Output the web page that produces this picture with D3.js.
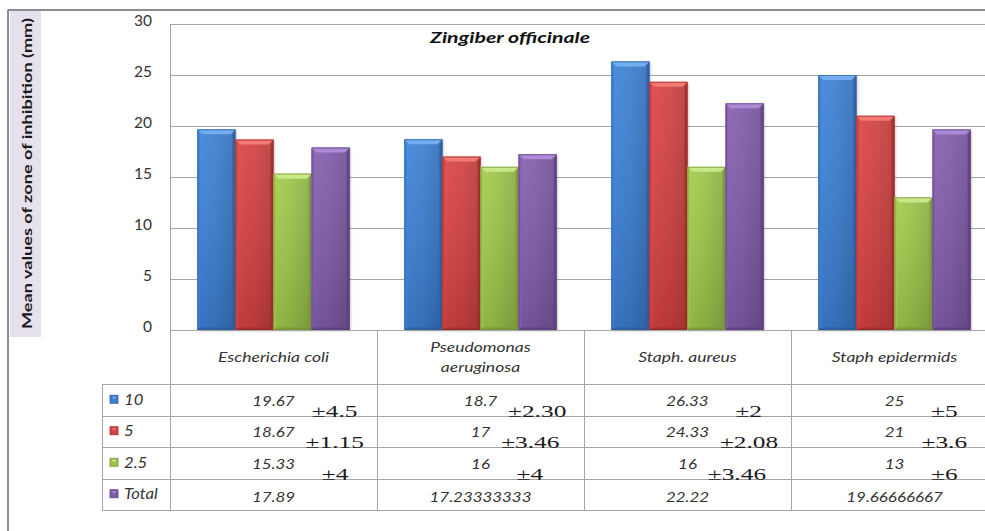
<!DOCTYPE html>
<html>
<head>
<meta charset="utf-8">
<script src="https://cdn.jsdelivr.net/npm/d3@7"></script>
<style>
  html, body { margin: 0; padding: 0; background: #ffffff; }
  svg { display: block; }
</style>
</head>
<body>
<svg id="chart" width="985" height="531"></svg>
<script>
// ---- data ----
const categories = ["Escherichia coli", "Pseudomonas|aeruginosa", "Staph. aureus", "Staph epidermids"];
const seriesNames = ["10", "5", "2.5", "Total"];
const values10 = [19.67, 18.7, 26.33, 25];
const values5 = [18.67, 17, 24.33, 21];
const values2_5 = [15.33, 16, 16, 13];
const valuesTotal = [17.89, 17.23333333, 22.22, 19.66666667];
const spread10 = ["±4.5", "±2.30", "±2", "±5"];
const spread5 = ["±1.15", "±3.46", "±2.08", "±3.6"];
const spread2_5 = ["±4", "±4", "±3.46", "±6"];
const yTicks = [0, 5, 10, 15, 20, 25, 30];
const chartTitle = "Zingiber officinale";
const yTitle = "Mean values of zone of inhibition (mm)";

const seriesValues = [values10, values5, values2_5, valuesTotal];
const seriesSpread = [spread10, spread5, spread2_5, null];
const palette = [
  { base: "#3b7dd0", light: "#74aef0", dark: "#2a5c9c" },
  { base: "#d24141", light: "#f27a72", dark: "#9e2b2b" },
  { base: "#9cc34a", light: "#cbe889", dark: "#779538" },
  { base: "#7f5ba8", light: "#ac8ad8", dark: "#5c407f" }
];

// ---- layout ----
const svg = d3.select("#chart");
const plotLeft = 170, plotTop = 24, plotBottom = 330;
const bandW = 207;
const tableLeft = 102;
const rowH = 31.5;
const headerBottom = 384;
const tableBottom = headerBottom + rowH * 4;
const gridColor = "#a6a6a6";
const textColor = "#333333";

const x = d3.scaleBand().domain(categories).range([plotLeft, plotLeft + bandW * categories.length]).padding(0);
const xs = d3.scaleBand().domain(seriesNames).range([0, x.bandwidth()]).paddingInner(0).paddingOuter(0.72);
const y = d3.scaleLinear().domain([0, 30]).range([plotBottom, plotTop]);

// outer frame (left and top edges)
svg.append("line").attr("x1", 8).attr("x2", 8).attr("y1", 10).attr("y2", 531)
  .attr("stroke", "#8c8c8c").attr("stroke-width", 2);
svg.append("line").attr("x1", 8).attr("x2", 985).attr("y1", 10).attr("y2", 10)
  .attr("stroke", "#8c8c8c").attr("stroke-width", 2);

// axis title strip
svg.append("rect").attr("x", 10).attr("y", 11).attr("width", 31).attr("height", 326).attr("fill", "#e6e1ed");
svg.append("text")
  .attr("transform", `translate(32,${(18 + 329) / 2}) rotate(-90)`)
  .attr("text-anchor", "middle")
  .attr("font-family", "Lato, 'Open Sans', sans-serif")
  .attr("font-weight", "bold")
  .attr("font-size", 14)
  .attr("fill", "#1a1a1a")
  .attr("textLength", 311).attr("lengthAdjust", "spacingAndGlyphs")
  .text(yTitle);

// gridlines
svg.append("g").selectAll("line").data(yTicks.filter(t => t > 0)).join("line")
  .attr("x1", plotLeft).attr("x2", 985)
  .attr("y1", d => y(d) + 0.5).attr("y2", d => y(d) + 0.5)
  .attr("stroke", gridColor).attr("stroke-width", 1);

// y axis tick labels
const yAxis = d3.axisLeft(y).tickValues(yTicks).tickSize(0).tickPadding(0);
const yg = svg.append("g").attr("transform", "translate(152,0)").call(yAxis);
yg.select(".domain").remove();
yg.selectAll("text")
  .attr("font-family", "Lato, 'Open Sans', sans-serif")
  .attr("font-size", 15.5)
  .attr("fill", textColor)
  .attr("dy", "0.1em");

// ---- bars with bevelled faces ----
const defs = svg.append("defs");
palette.forEach((c, i) => {
  const g = defs.append("linearGradient").attr("id", "face" + i).attr("x1", 0).attr("x2", 1).attr("y1", 0).attr("y2", 0);
  g.append("stop").attr("offset", 0).attr("stop-color", d3.color(c.base).brighter(0.15));
  g.append("stop").attr("offset", 0.45).attr("stop-color", c.base);
  g.append("stop").attr("offset", 1).attr("stop-color", d3.color(c.base).darker(0.35));
  const v = defs.append("linearGradient").attr("id", "shade" + i).attr("x1", 0).attr("x2", 0).attr("y1", 0).attr("y2", 1);
  v.append("stop").attr("offset", 0).attr("stop-color", "#ffffff").attr("stop-opacity", 0.08);
  v.append("stop").attr("offset", 1).attr("stop-color", "#000000").attr("stop-opacity", 0.12);
});
const shadow = defs.append("filter").attr("id", "barShadow").attr("x", "-20%").attr("y", "-5%").attr("width", "140%").attr("height", "110%");
shadow.append("feDropShadow").attr("dx", 1).attr("dy", 1).attr("stdDeviation", 1.2).attr("flood-color", "#000").attr("flood-opacity", 0.25);

const barData = [];
categories.forEach((cat, ci) => {
  seriesNames.forEach((s, si) => {
    barData.push({ cat, s, si, v: seriesValues[si][ci] });
  });
});

const bev = 5;
const bars = svg.append("g").selectAll("g").data(barData).join("g");
bars.each(function (d) {
  const g = d3.select(this);
  const x0 = x(d.cat) + xs(d.s), x1 = x0 + xs.bandwidth();
  const y0 = y(d.v), y1 = y(0);
  const c = palette[d.si];
  g.append("rect").attr("x", x0).attr("y", y0).attr("width", x1 - x0).attr("height", y1 - y0)
    .attr("fill", `url(#face${d.si})`).attr("filter", "url(#barShadow)");
  g.append("rect").attr("x", x0).attr("y", y0).attr("width", x1 - x0).attr("height", y1 - y0)
    .attr("fill", `url(#shade${d.si})`);
  // top bevel
  g.append("polygon").attr("points", [[x0, y0], [x1, y0], [x1 - bev, y0 + bev], [x0 + bev, y0 + bev]].join(" "))
    .attr("fill", c.light);
  // left bevel
  g.append("polygon").attr("points", [[x0, y0], [x0 + bev * 0.5, y0 + bev], [x0 + bev * 0.5, y1 - bev * 0.5], [x0, y1]].join(" "))
    .attr("fill", d3.color(c.base).brighter(0.1)).attr("opacity", 0.8);
  // right bevel
  g.append("polygon").attr("points", [[x1, y0], [x1, y1], [x1 - bev * 0.6, y1 - bev * 0.5], [x1 - bev * 0.6, y0 + bev]].join(" "))
    .attr("fill", c.dark).attr("opacity", 0.75);
  // bottom bevel
  g.append("polygon").attr("points", [[x0, y1], [x1, y1], [x1 - bev * 0.6, y1 - bev * 0.5], [x0 + bev * 0.5, y1 - bev * 0.5]].join(" "))
    .attr("fill", c.dark).attr("opacity", 0.8);
  g.append("rect").attr("x", x0 + 0.5).attr("y", y0 + 0.5).attr("width", x1 - x0 - 1).attr("height", y1 - y0 - 1)
    .attr("fill", "none").attr("stroke", c.dark).attr("stroke-width", 1).attr("stroke-opacity", 0.7);
});

// chart title
svg.append("text")
  .attr("x", 510).attr("y", 43)
  .attr("text-anchor", "middle")
  .attr("font-family", "Lato, 'Open Sans', sans-serif")
  .attr("font-weight", "bold").attr("font-style", "italic")
  .attr("font-size", 16)
  .attr("fill", "#111")
  .attr("textLength", 160).attr("lengthAdjust", "spacingAndGlyphs")
  .text(chartTitle);

// ---- data table ----
const lines = svg.append("g").attr("stroke", gridColor).attr("stroke-width", 1);
// plot left edge, extends through the table
lines.append("line").attr("x1", plotLeft + 0.5).attr("x2", plotLeft + 0.5).attr("y1", plotTop).attr("y2", tableBottom);
// zero line / table top
lines.append("line").attr("x1", plotLeft).attr("x2", 985).attr("y1", plotBottom + 0.5).attr("y2", plotBottom + 0.5);
// column separators
categories.slice(1).forEach(cat => {
  lines.append("line").attr("x1", Math.round(x(cat)) + 0.5).attr("x2", Math.round(x(cat)) + 0.5)
    .attr("y1", plotBottom).attr("y2", tableBottom);
});
// row lines
d3.range(5).forEach(r => {
  const yy = Math.round(headerBottom + r * rowH) + 0.5;
  lines.append("line").attr("x1", tableLeft).attr("x2", 985).attr("y1", yy).attr("y2", yy);
});
lines.append("line").attr("x1", tableLeft + 0.5).attr("x2", tableLeft + 0.5).attr("y1", headerBottom).attr("y2", tableBottom);

const sansItalic = (sel, size) => sel
  .attr("font-family", "Lato, 'Open Sans', sans-serif")
  .attr("font-style", "italic")
  .attr("font-size", size)
  .attr("fill", textColor);

// category header labels
categories.forEach(cat => {
  const parts = cat.split("|");
  const cx = x(cat) + x.bandwidth() / 2;
  const cy = (plotBottom + headerBottom) / 2;
  parts.forEach((p, k) => {
    const ty = cy + (k - (parts.length - 1) / 2) * 20 + 5;
    sansItalic(svg.append("text"), 14)
      .attr("text-anchor", "middle")
      .attr("transform", `translate(${cx},${ty}) scale(1.25,1)`)
      .text(p);
  });
});

// legend keys and series names
seriesNames.forEach((s, si) => {
  const rowMid = headerBottom + si * rowH + rowH / 2;
  const c = palette[si];
  svg.append("rect").attr("x", 110).attr("y", rowMid - 4.5).attr("width", 8).attr("height", 8)
    .attr("fill", c.base).attr("stroke", c.dark).attr("stroke-width", 0.8);
  svg.append("polygon").attr("points", [[111.5, rowMid - 3], [116.5, rowMid - 3], [114, rowMid - 0.5]].join(" "))
    .attr("fill", c.light);
  sansItalic(svg.append("text"), 14.5)
    .attr("transform", `translate(124,${rowMid + 5}) scale(1.15,1)`)
    .text(s);
});

// cell values, each followed by its spread
seriesNames.forEach((s, si) => {
  const rowTop = headerBottom + si * rowH;
  const hasSpread = !!seriesSpread[si];
  const sx = 1.3;
  categories.forEach((cat, ci) => {
    const cx = x(cat) + x.bandwidth() / 2;
    const val = seriesValues[si][ci];
    const t = sansItalic(svg.append("text"), 13)
      .attr("text-anchor", "middle")
      .attr("transform", `translate(${cx},${rowTop + (hasSpread ? 21.5 : 23)}) scale(${sx},1)`)
      .text(String(val));
    if (hasSpread) {
      const half = t.node().getComputedTextLength() * sx / 2;
      svg.append("text")
        .attr("text-anchor", "middle")
        .attr("transform", `translate(${cx + half + 40},${rowTop + rowH + 1}) scale(1.45,1)`)
        .attr("font-family", "'Liberation Serif', 'Times New Roman', serif")
        .attr("font-size", 17.5)
        .attr("fill", "#1a1a1a")
        .text(seriesSpread[si][ci]);
    }
  });
});
</script>
</body>
</html>
